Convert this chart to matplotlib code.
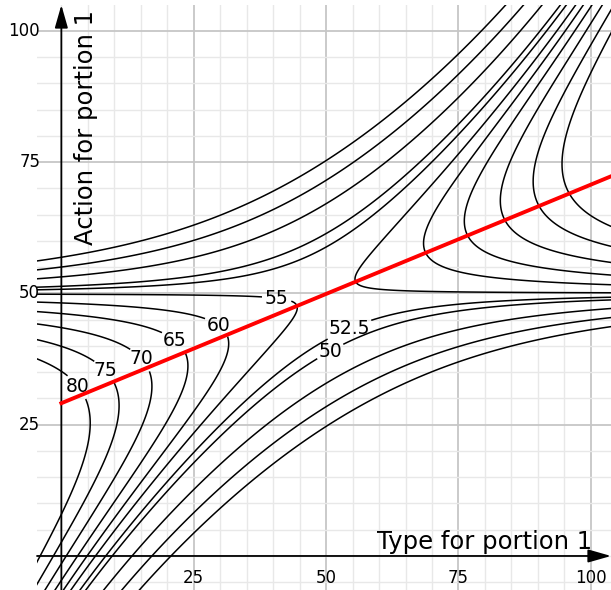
import numpy as np
import matplotlib.pyplot as plt

plt.rcParams['contour.negative_linestyle'] = 'solid'

# closed level curves on the left: value and the type where each curve turns back
c_levels = [55, 60, 65, 70, 75, 80]
c_tip_t = [44.55, 31.6, 23.9, 17.1, 10.9, 5.45]

# open level curves: value and the action where each meets the left edge (t = -4.6)
edge_levels = [52.5, 50, 45, 40, 35]
edge_a = [50.7, 51.2, 52.8, 54.5, 56.2]
edge_t = -4.6

labelled = [50, 52.5, 55, 60, 65, 70, 75, 80]
label_pos = [(50.7, 39.1), (53.6, 45.0), (40.6, 48.4), (29.6, 43.9),
             (21.1, 40.7), (15.1, 37.5), (8.2, 35.1), (3.5, 32.6)]

# red line
red_t = [0, 104]
red_a = [29.1, 72.4]

ticks = [25, 50, 75, 100]

bend = 0.145
stretch = 0.0255


def field(t, a):
    # saddle at (50, 50); level curves hug a = 50 and a bent diagonal
    u = np.asarray(t, float) - 50
    v = np.asarray(a, float) - 50
    w = u - v + bend * v * np.abs(v) / 55
    h = v * w
    return np.where(h < 0, h * (1 + stretch * np.abs(w)), h)


a_scan = np.linspace(0, 50, 2001)
c_h = [field(tt, a_scan).max() for tt in c_tip_t]
e_h = [float(field(edge_t, aa)) for aa in edge_a]

all_lv = c_levels + edge_levels
all_h = c_h + e_h
order = np.argsort(all_h)
lv_sorted = [all_lv[i] for i in order]
h_sorted = [all_h[i] for i in order]

lab_h = [h for h, lv in zip(h_sorted, lv_sorted) if lv in labelled]
lab_names = [f'{lv:g}' for lv in lv_sorted if lv in labelled]
other_h = [h for h, lv in zip(h_sorted, lv_sorted) if lv not in labelled]

fig = plt.figure(figsize=(6.11, 5.90), dpi=100)
ax = fig.add_axes([37 / 611, 0, 1 - 37 / 611, 585 / 590])
ax.set_xlim(-4.6, 103.8)
ax.set_ylim(-6.48, 104.95)

# grid
ax.set_xticks(ticks)
ax.set_yticks(ticks)
ax.set_xticks(np.arange(0, 105, 5), minor=True)
ax.set_yticks(np.arange(-5, 105, 5), minor=True)
ax.grid(which='major', color='#c6c6c6', lw=1.3)
ax.grid(which='minor', color='#e8e8e8', lw=1.0)
ax.set_axisbelow(True)
ax.tick_params(which='both', length=0, labelbottom=False, labelleft=False)
for s in ax.spines.values():
    s.set_visible(False)

t = np.linspace(-6, 106, 800)
a = np.linspace(-8, 107, 800)
T, A = np.meshgrid(t, a)
H = field(T, A)

ax.contour(T, A, H, levels=other_h, colors='black', linewidths=1.1,
           linestyles='solid')
cs = ax.contour(T, A, H, levels=lab_h, colors='black', linewidths=1.1,
                linestyles='solid')
fmt = {lv: name for lv, name in zip(cs.levels, lab_names)}
texts = ax.clabel(cs, inline=True, fmt=fmt, fontsize=13.5,
                  manual=label_pos, inline_spacing=3)
for txt in texts:
    txt.set_rotation(0)

# axes with arrows
arrow = dict(arrowstyle='-|>,head_length=0.7,head_width=0.2',
             color='black', lw=1.3, mutation_scale=20, shrinkA=0, shrinkB=0)
ax.annotate('', xy=(0, 104.95), xytext=(0, -6.48), arrowprops=arrow,
            annotation_clip=False)
ax.annotate('', xy=(103.8, 0), xytext=(-4.6, 0), arrowprops=arrow,
            annotation_clip=False)

ax.plot(red_t, red_a, color='#ff0000', lw=2.8, zorder=5)

for tk in ticks:
    ax.text(-4.0, tk, str(tk), ha='right', va='center', fontsize=12)
    ax.text(tk, -4.2, str(tk), ha='center', va='center', fontsize=12)

ax.text(100.3, 1.3, 'Type for portion 1', ha='right', va='baseline', fontsize=17.5)
ax.text(4.6, 59.2, 'Action for portion 1', rotation=90, ha='center', va='bottom',
        fontsize=17.5)

fig.savefig('out.png', dpi=100)
